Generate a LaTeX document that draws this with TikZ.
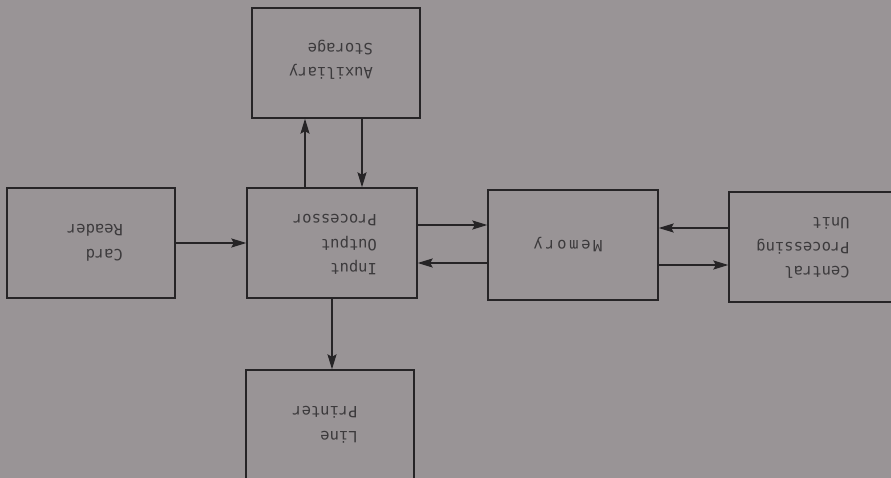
\documentclass[tikz,border=0pt]{standalone}
\usepackage{fontspec}
\setmonofont{DejaVu Sans Mono}
\usepackage{xcolor}
\usetikzlibrary{arrows.meta, positioning, calc}
\definecolor{paper}{RGB}{153, 148, 150}
\definecolor{ink}{RGB}{38, 36, 38}

\begin{document}
\begin{tikzpicture}[
    x=1pt, y=-1pt,
    box/.style={rectangle, draw=ink, line width=1.3pt, fill=paper,
                minimum width=168pt, minimum height=110pt, inner sep=0pt},
    lbl/.style={font=\fontsize{15.5}{24.5}\selectfont\ttfamily, text=ink!90,
                align=left, rotate=180},
    arr/.style={-{Stealth[length=15pt, width=9pt, inset=2.5pt]},
                line width=1.8pt, draw=ink, fill=ink}
]

% paper
\fill[paper] (0,0) rectangle (891,478);
\useasboundingbox (0,0) rectangle (891,478);

% Blocks
\node[box] (card) at (91,243)  {};
\node[box, minimum width=170pt] (iop) at (332,243) {};
\node[box] (aux)  at (336,63)  {};
\node[box, minimum width=170pt] (mem) at (573,245) {};
\node[box] (cpu)  at (813,247) {};
\node[box] (lp)   at (330,425) {};

% Labels (set upside down)
\node[lbl] (cardtxt) at (95,243)  {Card\\Reader};
\node[lbl] (ioptxt)  at (335,245) {Input\\Output\\Processor};
\node[lbl] (auxtxt)  at (331,60)  {Auxiliary\\Storage};
\node[lbl] (memtxt)  at (568,245) {M\,e\,m\,o\,r\,y};
\node[lbl] (cputxt)  at (803,248) {Central\\Processing\\Unit};
\node[lbl] (lptxt)   at (325,425) {Line\\Printer};

% Arrows
\draw[arr] (card.east) -- (iop.west);
\draw[arr] ([xshift=-27pt]iop.north) -- ([xshift=-27pt]iop.north |- aux.south);
\draw[arr] ([xshift=30pt]iop.north |- aux.south) -- ([xshift=30pt]iop.north);
\draw[arr] ([yshift=18pt]iop.east) -- ([yshift=18pt]iop.east -| mem.west);
\draw[arr] ([yshift=-20pt]iop.east -| mem.west) -- ([yshift=-20pt]iop.east);
\draw[arr] ([yshift=17pt]mem.east -| cpu.west) -- ([yshift=17pt]mem.east);
\draw[arr] ([yshift=-20pt]mem.east) -- ([yshift=-20pt]mem.east -| cpu.west);
\draw[arr] (iop.south) -- (iop.south |- lp.north);

\end{tikzpicture}
\end{document}
